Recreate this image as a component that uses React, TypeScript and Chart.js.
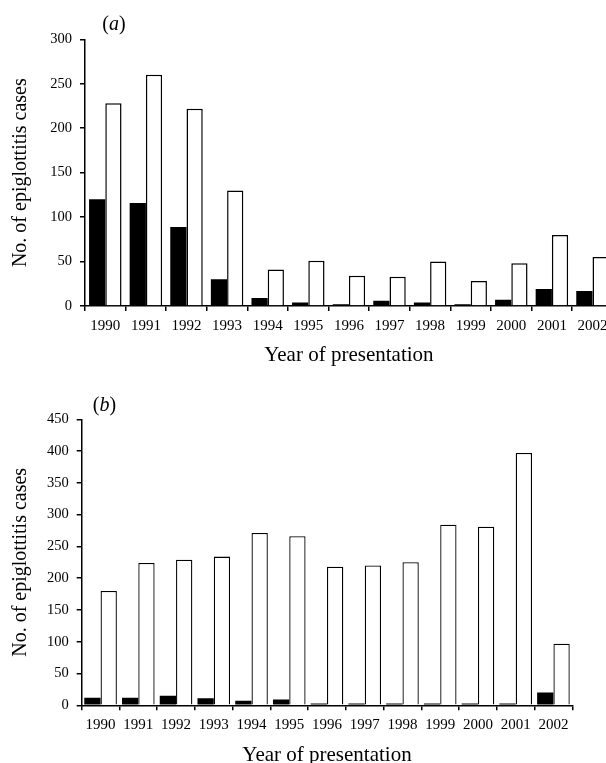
import React, { useEffect, useRef } from 'react';
import { Chart, registerables } from 'chart.js';

Chart.register(...registerables);

// ---- data ----
const years = ['1990', '1991', '1992', '1993', '1994', '1995', '1996', '1997', '1998', '1999', '2000', '2001', '2002'];

const panelABlack = [120, 116, 89, 30, 9, 4, 2, 6, 4, 2, 7, 19, 17];
const panelAWhite = [228, 260, 222, 130, 41, 51, 34, 33, 50, 28, 48, 80, 55];

const panelBBlack = [12, 12, 15, 11, 7, 9, 3, 3, 3, 3, 3, 3, 20];
const panelBWhite = [180, 224, 229, 234, 271, 266, 218, 220, 225, 284, 281, 397, 97];

const yTitle = 'No. of epiglottitis cases';
const xTitle = 'Year of presentation';

const FONT = '"Liberation Serif", "Times New Roman", Times, serif';

type PanelProps = {
  letter: string;
  black: number[];
  white: number[];
  yMax: number;
  top: number;
  width: number;
  height: number;
  chartLeft: number;
  padRight: number;
  padTop: number;
  xAxisHeight: number;
  catPct: number;
  barBorder: number;
  letterX: number;
  letterY: number;
};

function Panel(p: PanelProps) {
  const ref = useRef<HTMLCanvasElement | null>(null);

  useEffect(() => {
    if (!ref.current) return;
    const letterPlugin = {
      id: 'panelLetter',
      afterDraw(chart: any) {
        const ctx = chart.ctx;
        ctx.save();
        ctx.fillStyle = '#000';
        ctx.textBaseline = 'middle';
        ctx.textAlign = 'left';
        const up = `20px ${FONT}`;
        const it = `italic 20px ${FONT}`;
        ctx.font = up;
        const wOpen = ctx.measureText('(').width;
        const wClose = ctx.measureText(')').width;
        ctx.font = it;
        const wL = ctx.measureText(p.letter).width;
        const total = wOpen + wL + wClose;
        let x = p.letterX - total / 2;
        ctx.font = up;
        ctx.fillText('(', x, p.letterY);
        x += wOpen;
        ctx.font = it;
        ctx.fillText(p.letter, x, p.letterY);
        x += wL;
        ctx.font = up;
        ctx.fillText(')', x, p.letterY);
        ctx.restore();
      },
    };

    const chart = new Chart(ref.current, {
      type: 'bar',
      data: {
        labels: years,
        datasets: [
          {
            data: p.black,
            backgroundColor: '#000',
            borderColor: '#000',
            borderWidth: 0,
            barPercentage: 1,
            categoryPercentage: p.catPct,
          },
          {
            data: p.white,
            backgroundColor: '#fff',
            borderColor: '#000',
            borderWidth: p.barBorder,
            barPercentage: 1,
            categoryPercentage: p.catPct,
          },
        ],
      },
      options: {
        responsive: false,
        animation: false,
        devicePixelRatio: 1,
        layout: { padding: { left: 0, top: p.padTop, right: p.padRight, bottom: 0 } },
        plugins: {
          legend: { display: false },
          tooltip: { enabled: false },
          title: { display: false },
        },
        scales: {
          x: {
            grid: {
              display: true,
              drawOnChartArea: false,
              drawTicks: true,
              tickLength: 5,
              color: '#000',
              lineWidth: 1.5,
              offset: true,
            },
            border: { display: true, color: '#000', width: 1.5 },
            ticks: {
              color: '#000',
              font: { family: FONT, size: 15 },
              padding: 6,
              maxRotation: 0,
              autoSkip: false,
            },
            title: {
              display: true,
              text: xTitle,
              color: '#000',
              font: { family: FONT, size: 21 },
              padding: { top: 0, bottom: 11.5 },
            },
            afterFit: (scale: any) => {
              scale.height = p.xAxisHeight;
            },
          },
          y: {
            min: 0,
            max: p.yMax,
            grid: {
              display: true,
              drawOnChartArea: false,
              drawTicks: true,
              tickLength: 5,
              color: '#000',
              lineWidth: 1.5,
            },
            border: { display: true, color: '#000', width: 1.5 },
            ticks: {
              stepSize: 50,
              color: '#000',
              font: { family: FONT, size: 14.5 },
              padding: 8,
            },
            title: {
              display: true,
              text: yTitle,
              color: '#000',
              font: { family: FONT, size: 20 },
              padding: { top: 8.5, bottom: 0 },
            },
            afterFit: (scale: any) => {
              scale.width = p.chartLeft;
            },
          },
        },
      },
      plugins: [letterPlugin],
    } as any);

    return () => chart.destroy();
  }, []);

  return (
    <canvas
      ref={ref}
      width={p.width}
      height={p.height}
      style={{ position: 'absolute', left: 0, top: p.top, width: p.width, height: p.height, display: 'block' }}
    />
  );
}

export default function App() {
  return (
    <div
      style={{
        position: 'absolute',
        left: 0,
        top: 0,
        width: 606,
        height: 763,
        overflow: 'hidden',
        background: '#fff',
      }}
    >
      <Panel
        letter="a"
        black={panelABlack}
        white={panelAWhite}
        yMax={300}
        top={0}
        width={660}
        height={380}
        chartLeft={85}
        padRight={47.2}
        padTop={39.3}
        xAxisHeight={74}
        catPct={0.8}
        barBorder={1.5}
        letterX={114}
        letterY={24.5}
      />
      <Panel
        letter="b"
        black={panelBBlack}
        white={panelBWhite}
        yMax={450}
        top={380}
        width={606}
        height={400}
        chartLeft={81.7}
        padRight={33.7}
        padTop={39.3}
        xAxisHeight={74.7}
        catPct={0.864}
        barBorder={1.3}
        letterX={104.5}
        letterY={26}
      />
    </div>
  );
}
